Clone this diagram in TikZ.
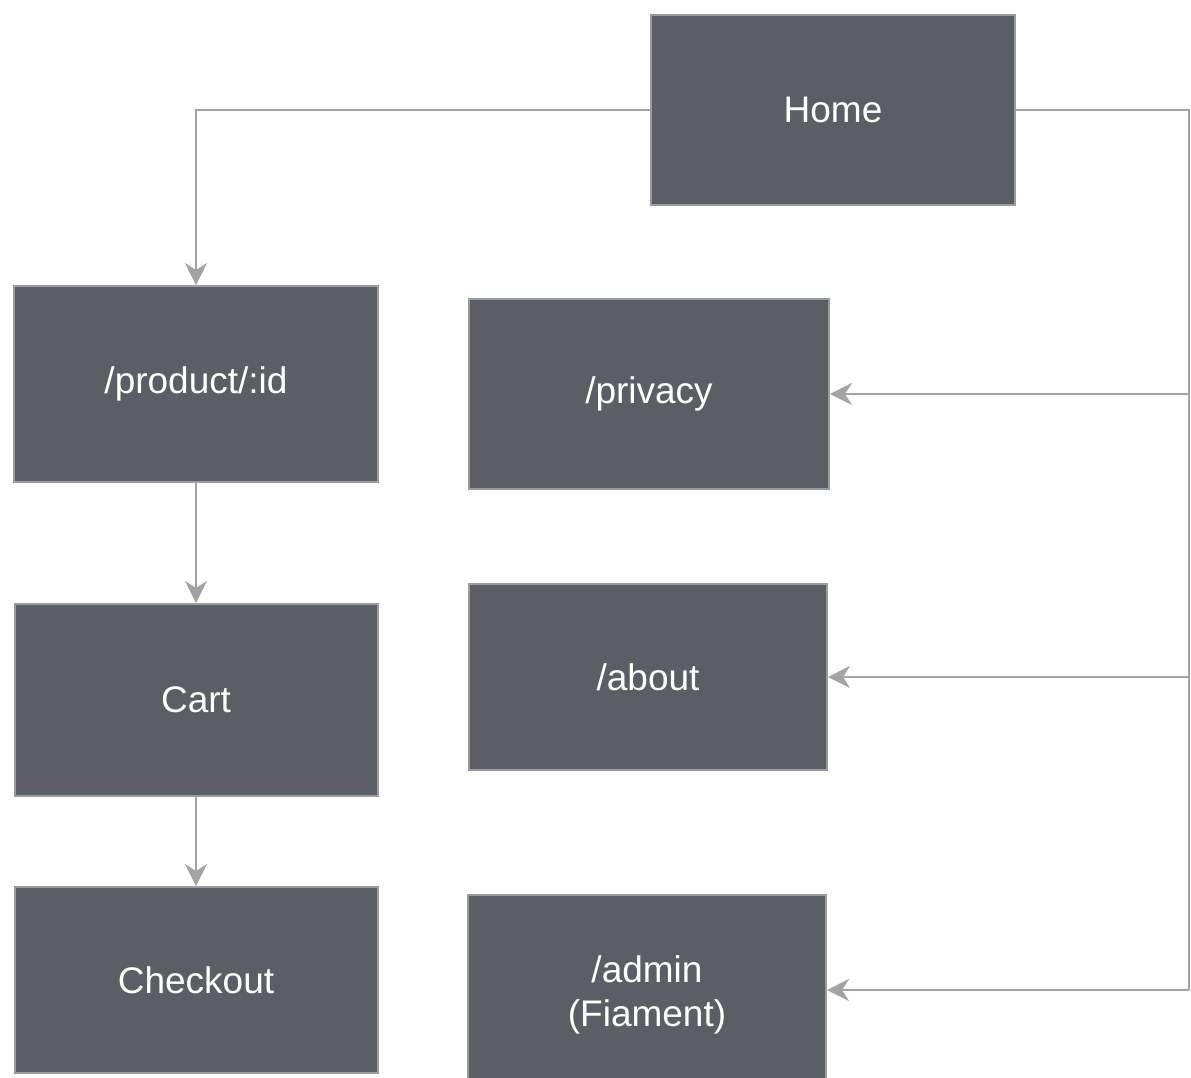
\documentclass[tikz,border=0pt]{standalone}
\usepackage{fontspec}
\setmainfont{Liberation Sans}
\usetikzlibrary{arrows.meta}
\definecolor{boxfill}{HTML}{5B5E64}
\definecolor{boxline}{HTML}{9A9C9F}
\definecolor{wire}{HTML}{A3A3A3}
\tikzset{
  page/.style={x=1pt,y=-1pt},
  pagebox/.style={draw=boxline, line width=2pt, fill=boxfill, text=white,
    font=\fontsize{37}{44}\selectfont, align=center, inner sep=0pt},
  wireline/.style={draw=wire, line width=2pt},
  wirearrow/.style={wireline, -{Stealth[length=22pt,width=22pt,inset=7pt,fill=wire]}}
}
\begin{document}
\begin{tikzpicture}[page]
\useasboundingbox (0,0) rectangle (1191,1077);
\clip (0,0) rectangle (1191,1077);
\fill[white] (0,0) rectangle (1191,1077);
% boxes
\node[pagebox, minimum width=364pt, minimum height=190pt] (home) at (833,110) {Home};
\node[pagebox, minimum width=364pt, minimum height=196pt] (product) at (196,384) {/product/:id};
\node[pagebox, minimum width=360pt, minimum height=190pt] (privacy) at (649,394) {/privacy};
\node[pagebox, minimum width=363pt, minimum height=192pt] (cart) at (196,700) {Cart};
\node[pagebox, minimum width=358pt, minimum height=186pt] (about) at (648,677) {/about};
\node[pagebox, minimum width=363pt, minimum height=186pt] (checkout) at (196,980) {Checkout};
\node[pagebox, minimum width=358pt, minimum height=200pt] (admin) at (647,995) {/admin\\(Fiament)};
% connectors
\coordinate (rb) at (1189,990);
\draw[wirearrow] (home.west) -| (product.north);
\draw[wireline] (home.east) -| (rb);
\draw[wirearrow] (rb |- privacy.east) -- (privacy.east);
\draw[wirearrow] (rb |- about.east) -- (about.east);
\draw[wirearrow] (rb) -- (rb -| admin.east);
\draw[wirearrow] (product.south) -- (cart.north);
\draw[wirearrow] (cart.south) -- (checkout.north);
\end{tikzpicture}
\end{document}
